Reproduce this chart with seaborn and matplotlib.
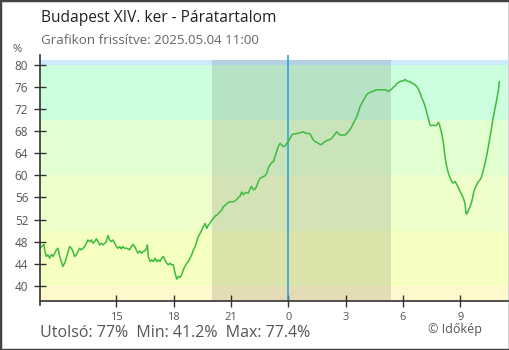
import matplotlib
matplotlib.use("Agg")
import matplotlib.pyplot as plt
import seaborn as sns
import pandas as pd
from matplotlib.patches import Rectangle

# ---- data: hours relative to midnight (11:00 previous day = -13) and relative humidity % ----
hours_a = [
    -13.00, -12.90, -12.79, -12.76, -12.67, -12.58, -12.49, -12.41, -12.32, -12.23,
    -12.14, -12.06, -11.97, -11.88, -11.80, -11.71, -11.62, -11.53, -11.45, -11.36,
    -11.27, -11.19, -11.10, -11.01, -10.92, -10.84, -10.75, -10.66, -10.57, -10.49,
    -10.40, -10.31, -10.23, -10.14, -10.05, -9.96, -9.88, -9.79, -9.70, -9.62,
    -9.53, -9.44, -9.35, -9.27, -9.18, -9.09, -9.00, -8.92, -8.83, -8.74,
    -8.66, -8.57, -8.48, -8.39, -8.31, -8.22, -8.13, -8.04, -7.96, -7.87,
    -7.78, -7.69, -7.61, -7.52, -7.43,
]
humidity_a = [
    46.9, 47.1, 47.5, 46.5, 45.3, 45.6, 45.0, 45.7, 45.3, 45.9,
    46.5, 46.8, 45.3, 44.4, 43.5, 44.1, 45.0, 46.2, 47.1, 46.8,
    46.2, 45.3, 45.6, 46.2, 46.8, 46.5, 46.8, 47.1, 47.7, 48.3,
    48.0, 48.3, 47.7, 48.0, 48.5, 48.0, 47.4, 47.7, 47.4, 47.7,
    48.0, 49.1, 48.3, 48.0, 48.3, 47.7, 47.1, 46.8, 47.1, 46.7,
    47.1, 46.8, 46.8, 46.7, 46.5, 47.1, 47.5, 47.1, 46.5, 45.9,
    46.3, 45.9, 46.2, 46.3, 46.7,
]
hours_b = [
    -7.38, -7.33, -7.24, -7.15, -7.07, -6.98, -6.89, -6.80, -6.72, -6.63,
    -6.54, -6.46, -6.37, -6.28, -6.19, -6.11, -6.02, -5.93, -5.84, -5.76,
    -5.67, -5.58, -5.50, -5.41, -5.32, -5.23, -5.15, -5.06, -4.97, -4.88,
    -4.80, -4.71, -4.62, -4.54, -4.45, -4.36, -4.27, -4.19, -4.10, -4.01,
    -3.92, -3.84, -3.75, -3.66, -3.58, -3.49, -3.40, -3.31, -3.23, -3.14,
    -3.05, -2.96, -2.88, -2.79, -2.70, -2.62, -2.53,
]
humidity_b = [
    47.4, 45.3, 44.4, 44.7, 44.4, 45.0, 44.4, 44.7, 44.4, 45.0,
    45.3, 44.7, 44.1, 43.8, 44.1, 43.8, 43.8, 42.3, 41.2, 41.7,
    41.5, 42.0, 42.9, 43.5, 44.1, 44.4, 45.0, 45.6, 46.5, 47.1,
    48.0, 48.9, 49.5, 50.0, 50.7, 51.3, 50.4, 51.0, 51.3, 51.9,
    52.2, 52.6, 52.8, 53.1, 53.4, 53.7, 54.3, 54.6, 54.8, 55.1,
    55.2, 55.2, 55.2, 55.4, 55.6, 56.0, 56.2,
]
hours_c = [
    -2.44, -2.35, -2.27, -2.18, -2.09, -2.00, -1.92, -1.83, -1.74, -1.66,
    -1.57, -1.48, -1.39, -1.31, -1.22, -1.13, -1.05, -0.96, -0.87, -0.78,
    -0.70, -0.61, -0.52, -0.43, -0.35, -0.26, -0.17, -0.09, 0.00, 0.09,
    0.18, 0.26, 0.35, 0.44, 0.52, 0.61, 0.70, 0.79, 0.87, 0.96,
    1.05, 1.14, 1.22, 1.31, 1.40, 1.49, 1.57, 1.66,
]
humidity_c = [
    57.0, 56.5, 56.8, 56.9, 56.8, 57.6, 58.0, 57.4, 57.5, 58.0,
    58.9, 59.5, 59.6, 59.8, 59.9, 60.4, 61.3, 61.9, 62.3, 62.5,
    63.4, 64.3, 65.3, 65.8, 65.5, 65.2, 65.3, 65.8, 66.1, 66.7,
    67.3, 67.5, 67.5, 67.6, 67.6, 67.7, 67.8, 67.9, 67.7, 67.6,
    67.6, 67.5, 67.0, 66.4, 66.1, 66.0, 65.8, 65.6,
]
hours_d = [
    1.75, 1.83, 1.92, 2.01, 2.10, 2.18, 2.27, 2.36, 2.45, 2.53,
    2.62, 2.71, 2.79, 2.88, 2.97, 3.06, 3.14, 3.23, 3.32, 3.40,
    3.49, 3.58, 3.67, 3.75, 3.84, 3.93, 4.02, 4.10, 4.19, 4.28,
    4.36, 4.45, 4.54, 4.63, 4.71, 4.80, 4.89, 4.98, 5.06, 5.15,
    5.24, 5.32, 5.41, 5.50, 5.59, 5.67, 5.76, 5.85, 5.93, 6.02,
    6.11, 6.20, 6.28, 6.37,
]
humidity_d = [
    65.6, 65.9, 66.1, 66.3, 66.4, 66.5, 66.7, 67.1, 67.5, 67.9,
    67.6, 67.3, 67.3, 67.3, 67.3, 67.6, 67.9, 68.3, 68.8, 69.4,
    70.0, 70.6, 71.5, 72.4, 73.0, 73.6, 74.1, 74.6, 74.9, 75.0,
    75.2, 75.2, 75.4, 75.5, 75.5, 75.5, 75.5, 75.5, 75.5, 75.4,
    75.2, 75.4, 75.6, 76.0, 76.2, 76.6, 76.8, 77.0, 77.1, 77.1,
    77.4, 77.1, 77.0, 77.0,
]
hours_e = [
    6.46, 6.55, 6.63, 6.72, 6.81, 6.90, 6.98, 7.07, 7.16, 7.24,
    7.33, 7.38, 7.42, 7.51, 7.59, 7.68, 7.77, 7.85, 7.91, 7.94,
    8.03, 8.12, 8.20, 8.29, 8.38, 8.47, 8.55, 8.64, 8.73, 8.82,
    8.90, 8.99, 9.08, 9.16, 9.25, 9.30, 9.34, 9.43, 9.51, 9.60,
    9.69, 9.77, 9.86, 9.95, 10.04, 10.12, 10.21, 10.30, 10.39, 10.47,
    10.56, 10.65, 10.73, 10.82, 10.91, 10.99, 11.05,
]
humidity_e = [
    76.7, 76.6, 76.4, 76.1, 75.6, 74.9, 74.1, 73.4, 72.5, 71.5,
    70.3, 69.6, 69.1, 69.0, 69.1, 69.0, 69.1, 69.6, 69.3, 68.8,
    67.6, 65.8, 63.4, 61.6, 60.4, 59.5, 58.9, 58.6, 58.9, 58.3,
    57.8, 57.1, 56.5, 55.9, 54.9, 53.1, 53.0, 53.7, 54.3, 55.2,
    56.7, 57.7, 58.3, 58.9, 59.2, 59.8, 61.0, 62.2, 63.7, 65.2,
    67.0, 68.8, 70.6, 72.1, 73.7, 75.2, 77.0,
]
hours = hours_a + hours_b + hours_c + hours_d + hours_e
humidity = humidity_a + humidity_b + humidity_c + humidity_d + humidity_e

tick_hours = [-9, -6, -3, 0, 3, 6, 9]
tick_labels = ["15", "18", "21", "0", "3", "6", "9"]
y_ticks = [40, 44, 48, 52, 56, 60, 64, 68, 72, 76, 80]

band_edges = [37.3, 40, 50, 60, 70, 80, 80.9]
band_colors = ["#fff8cc", "#f5ffc0", "#eeffcc", "#e2ffd2", "#ccffdd", "#cce9ff"]
night_start, night_end = -4.0, 5.37

title = "Budapest XIV. ker - Páratartalom"
subtitle = "Grafikon frissítve: 2025.05.04 11:00"
footer = "Utolsó: 77%  Min: 41.2%  Max: 77.4%"
credit = "© Időkép"

# ---- style ----
sns.set_theme(style="white")
plt.rcParams["font.family"] = ["Open Sans", "DejaVu Sans"]

fig = plt.figure(figsize=(5.1, 3.5), dpi=100)
ax = fig.add_axes([40 / 510, (350 - 300.7) / 350, 468 / 510, (300.7 - 55) / 350])
ax.set_facecolor("white")

xmin, xmax = -13.0, 11.5
ymin, ymax = 37.3, 81.8

for lo, hi, c in zip(band_edges[:-1], band_edges[1:], band_colors):
    ax.axhspan(lo, hi, color=c, lw=0, zorder=0)

ax.axvspan(night_start, night_end, ymin=0, ymax=(80.9 - ymin) / (ymax - ymin),
           color="#000000", alpha=0.11, lw=0, zorder=1)
ax.axvline(0, color="#2a9be0", lw=1.1, zorder=2)

df = pd.DataFrame({"h": hours, "rh": humidity})
sns.lineplot(data=df, x="h", y="rh", ax=ax, color="#3dbb3d", lw=1.1, zorder=3,
             estimator=None, sort=False)

ax.set_xlim(xmin, xmax)
ax.set_ylim(ymin, ymax)
ax.set_xlabel("")
ax.set_ylabel("")

ax.set_xticks(tick_hours)
ax.set_xticklabels(tick_labels)
ax.set_yticks(y_ticks)
ax.set_yticklabels([str(v) for v in y_ticks])

ax.tick_params(axis="y", direction="inout", length=9, width=1, color="#333333",
               labelsize=8.5, labelcolor="#555555", pad=4, left=True)
ax.tick_params(axis="x", direction="inout", length=8, width=1, color="#333333",
               labelsize=8, labelcolor="#555555", pad=4, bottom=True)

for s in ["top", "right"]:
    ax.spines[s].set_visible(False)
for s in ["left", "bottom"]:
    ax.spines[s].set_color("#333333")
    ax.spines[s].set_linewidth(1.2)
    ax.spines[s].set_zorder(6)
ax.spines["left"].set_bounds(36.5, ymax)

fig.text(17 / 510, 1 - 50 / 350, "%", fontsize=8, color="#555555", ha="center", va="center")
fig.text(41 / 510, 1 - 18 / 350, title, fontsize=11.2, color="#222222", ha="left", va="center")
fig.text(41 / 510, 1 - 40 / 350, subtitle, fontsize=9.6, color="#666666", ha="left", va="center")
fig.text(40 / 510, 1 - 333 / 350, footer, fontsize=11.5, color="#555555", ha="left", va="center")
fig.text(482 / 510, 1 - 330 / 350, credit, fontsize=9, color="#555555", ha="right", va="center")

fig.patches.append(Rectangle((0, 0), 1, 1, transform=fig.transFigure, fill=False,
                             edgecolor="#444444", lw=2.5))

fig.savefig("out.png", dpi=100)
